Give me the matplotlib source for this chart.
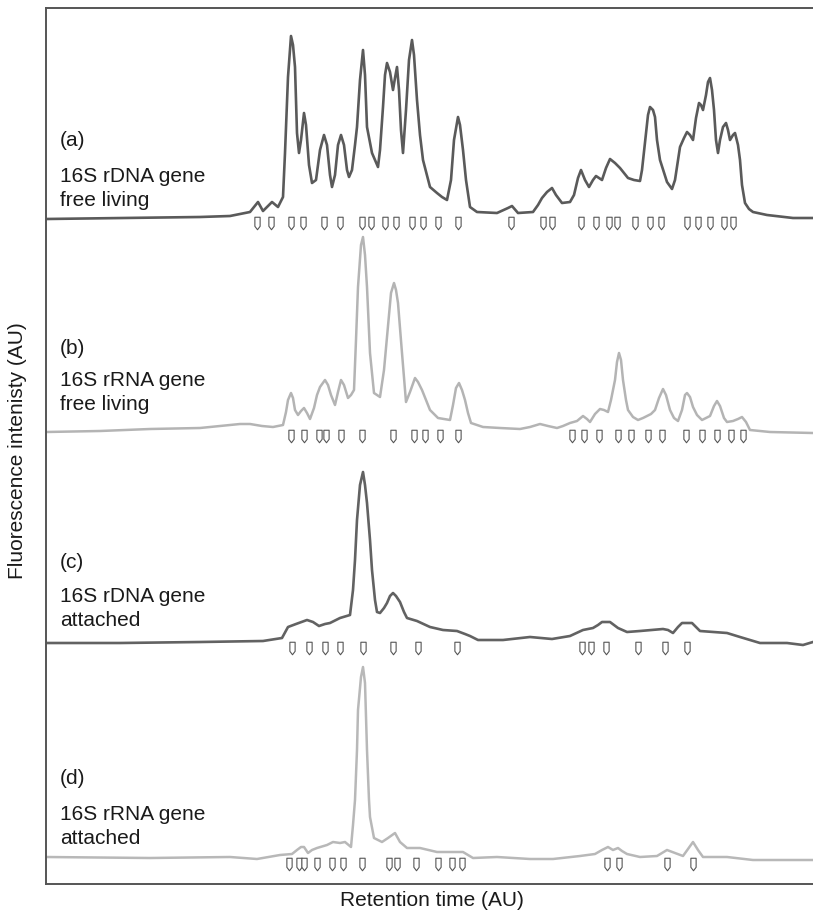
import matplotlib
matplotlib.use("Agg")
import matplotlib.pyplot as plt
from matplotlib.path import Path
import numpy as np

plt.rcParams['font.family'] = ['Liberation Sans', 'DejaVu Sans']

# ---------------- data: (retention time AU, intensity above baseline AU) ----------------
a_trace = [(0, -2), (74, -1), (154, 0), (184, 1), (204, 5), (212, 15), (217, 6), (226, 15), (232, 10), (237, 20),
           (239, 64), (242, 140), (245, 181), (247, 172), (249, 150), (251, 84), (253, 64), (255, 77), (258, 104),
           (260, 92), (263, 52), (266, 34), (270, 37), (274, 67), (278, 82), (281, 72), (284, 42), (286, 30),
           (289, 42), (292, 72), (295, 82), (298, 72), (301, 47), (303, 40), (306, 47), (309, 72), (311, 90),
           (314, 137), (317, 167), (319, 142), (321, 90), (326, 64), (332, 50), (334, 67), (337, 110), (339, 142),
           (341, 154), (344, 145), (347, 127), (349, 139), (351, 150), (353, 127), (355, 87), (357, 64), (360, 107),
           (363, 157), (366, 177), (368, 162), (371, 117), (374, 82), (377, 57), (384, 30), (391, 24), (396, 20),
           (401, 17), (405, 37), (408, 77), (412, 100), (414, 92), (417, 67), (420, 37), (424, 10), (431, 5),
           (451, 4), (462, 9), (466, 11), (472, 4), (487, 5), (492, 12), (496, 19), (501, 25), (506, 29), (510, 22),
           (516, 14), (524, 15), (528, 22), (532, 39), (535, 47), (539, 37), (543, 30), (547, 37), (550, 41),
           (553, 39), (556, 37), (560, 49), (564, 58), (569, 54), (574, 49), (582, 39), (588, 37), (594, 36),
           (596, 47), (599, 74), (602, 102), (604, 110), (607, 107), (609, 100), (611, 77), (614, 57), (621, 35),
           (626, 28), (629, 37), (632, 57), (634, 70), (638, 79), (641, 85), (644, 82), (647, 77), (650, 99),
           (653, 114), (655, 112), (657, 107), (660, 122), (662, 135), (664, 139), (666, 127), (668, 107), (670, 77),
           (672, 64), (674, 77), (677, 90), (680, 94), (682, 87), (684, 77), (687, 82), (689, 84), (692, 72),
           (694, 57), (696, 32), (699, 14), (703, 8), (707, 5), (721, 2), (747, -1), (767, -1)]

b_trace = [(0, -2), (54, -1), (104, 1), (154, 2), (184, 5), (194, 6), (204, 6), (216, 4), (227, 3), (237, 5),
           (240, 18), (242, 30), (245, 37), (247, 32), (249, 20), (252, 15), (255, 19), (258, 22), (261, 17),
           (264, 11), (268, 22), (271, 35), (274, 43), (279, 50), (282, 45), (285, 35), (289, 25), (292, 38),
           (295, 50), (298, 45), (302, 32), (305, 35), (308, 40), (310, 90), (312, 143), (315, 185), (317, 193),
           (319, 175), (321, 143), (324, 77), (328, 37), (334, 33), (338, 60), (341, 93), (345, 137), (348, 147),
           (350, 140), (352, 127), (356, 77), (360, 28), (364, 38), (369, 52), (372, 48), (376, 40), (380, 30),
           (384, 20), (392, 12), (398, 11), (404, 10), (407, 25), (410, 42), (413, 47), (416, 40), (419, 30),
           (422, 17), (425, 7), (437, 3), (454, 2), (474, 1), (484, 3), (494, 6), (502, 4), (511, 2), (517, 4),
           (524, 7), (531, 9), (537, 14), (541, 11), (544, 8), (549, 16), (554, 21), (558, 20), (562, 18), (565, 30),
           (569, 50), (571, 68), (573, 77), (575, 70), (577, 50), (580, 30), (582, 20), (587, 13), (592, 10),
           (597, 12), (601, 14), (605, 16), (609, 20), (613, 32), (617, 41), (620, 35), (624, 20), (628, 12),
           (632, 9), (636, 20), (639, 35), (641, 37), (644, 33), (647, 23), (651, 15), (656, 10), (660, 12),
           (664, 14), (668, 24), (671, 29), (674, 24), (678, 12), (681, 8), (687, 9), (692, 11), (696, 13), (700, 8),
           (704, 0), (724, -2), (767, -3)]

c_trace = [(0, -1), (74, -1), (154, 0), (217, 1), (236, 4), (242, 15), (250, 18), (261, 22), (267, 20), (273, 16),
           (279, 18), (284, 19), (294, 24), (304, 27), (307, 52), (309, 82), (311, 122), (314, 157), (317, 170),
           (319, 157), (321, 139), (324, 102), (326, 72), (329, 42), (331, 30), (334, 29), (338, 34), (341, 39),
           (344, 46), (347, 49), (350, 46), (354, 40), (358, 30), (361, 24), (371, 21), (384, 15), (397, 12),
           (411, 11), (419, 8), (424, 6), (432, 2), (457, 2), (484, 5), (506, 3), (524, 6), (537, 12), (547, 14),
           (552, 17), (556, 20), (564, 20), (568, 17), (572, 14), (581, 10), (594, 11), (617, 13), (622, 12),
           (627, 9), (632, 15), (636, 19), (646, 19), (650, 15), (654, 11), (681, 9), (694, 5), (714, -1), (741, -1),
           (757, -3), (767, 0)]

d_trace = [(0, 1), (104, 0), (184, 1), (211, -1), (234, 3), (246, 4), (251, 8), (255, 11), (258, 11), (262, 5),
           (266, 8), (271, 10), (281, 13), (287, 16), (294, 15), (299, 16), (305, 11), (307, 33), (309, 58),
           (311, 108), (312, 148), (315, 181), (317, 191), (319, 175), (321, 108), (323, 58), (324, 41), (328, 20),
           (336, 16), (342, 20), (349, 25), (354, 16), (361, 10), (374, 10), (391, 6), (406, 6), (417, 6), (427, 0),
           (451, 1), (484, -1), (507, -1), (534, 2), (549, 4), (556, 8), (562, 11), (567, 8), (572, 10), (576, 7),
           (581, 4), (594, 1), (611, 2), (616, 5), (621, 8), (629, 5), (637, 2), (642, 9), (647, 16), (652, 8),
           (657, 1), (681, 1), (707, -2), (741, -2), (767, -2)]

# peak marker positions (retention time, AU)
a_marks = [211, 225, 245, 257, 278, 294, 316, 325, 339, 350, 366, 377, 392, 412, 465, 497, 506, 535, 550, 563, 571,
           589, 604, 615, 641, 652, 664, 678, 687]
b_marks = [245, 258, 273, 280, 295, 316, 347, 368, 379, 394, 412, 526, 538, 553, 572, 585, 602, 616, 640, 656, 671,
           685, 697]
c_marks = [246, 263, 279, 294, 317, 347, 372, 411, 536, 545, 560, 592, 619, 641]
d_marks = [243, 253, 258, 271, 286, 297, 316, 343, 351, 370, 392, 406, 416, 561, 573, 621, 647]

panel_tags = ["(a)", "(b)", "(c)", "(d)"]
panel_genes = ["16S rDNA gene", "16S rRNA gene", "16S rDNA gene", "16S rRNA gene"]
panel_states = ["free living", "free living", "attached", "attached"]

# ---------------- layout (pixel geometry) ----------------
W, H = 813, 918
fig = plt.figure(figsize=(W / 100, H / 100), dpi=100)
left, right, top, bottom = 46, 813, 8, 884
ax = fig.add_axes([left / W, 1 - bottom / H, (right - left) / W, (bottom - top) / H])
ax.set_xlim(0, right - left)
ax.set_ylim(0, bottom - top)


def py(ypx):
    return bottom - ypx


styles = [
    (a_trace, a_marks, 217, '#5a5a5a', 1.9),
    (b_trace, b_marks, 430, '#b4b4b4', 1.8),
    (c_trace, c_marks, 642, '#626262', 1.9),
    (d_trace, d_marks, 858, '#b8b8b8', 1.8),
]
label_pos = [(140, 176, 200), (349, 381, 405), (562, 597, 621), (778, 814, 838)]

# pencil-shaped peak marker
verts = [(-0.42, 1.0), (0.42, 1.0), (0.42, -0.45), (0.0, -1.0), (-0.42, -0.45), (-0.42, 1.0)]
codes = [Path.MOVETO, Path.LINETO, Path.LINETO, Path.LINETO, Path.LINETO, Path.CLOSEPOLY]
pencil = Path(verts, codes)

for (trace, marks, base, col, lw), tag, gene, state, lp in zip(styles, panel_tags, panel_genes, panel_states,
                                                                  label_pos):
    off = py(base)
    t = np.array([p[0] for p in trace], dtype=float)
    v = np.array([p[1] for p in trace], dtype=float)
    ax.plot(t, v + off, color=col, lw=lw, solid_joinstyle='round')
    ax.plot(marks, [off - 6] * len(marks), linestyle='none', marker=pencil, markersize=9,
            markerfacecolor='white', markeredgecolor='#555555', markeredgewidth=0.8)
    for txt, ypx in zip((tag, gene, state), lp):
        ax.text(14, py(ypx), txt, fontsize=15, color='#1a1a1a', va='center', ha='left')

for s in ['top', 'left', 'bottom']:
    ax.spines[s].set_color('#555555')
    ax.spines[s].set_linewidth(1.4)
ax.spines['right'].set_visible(False)
ax.set_xticks([])
ax.set_yticks([])

fig.text(432 / W, 1 - 901 / H, "Retention time (AU)", fontsize=15, ha='center', va='center', color='#1a1a1a')
fig.text(18 / W, 1 - 451 / H, "Fluorescence intenisty (AU)", fontsize=15, ha='center', va='center',
         rotation=90, color='#1a1a1a')

fig.savefig("out.png", dpi=100)
